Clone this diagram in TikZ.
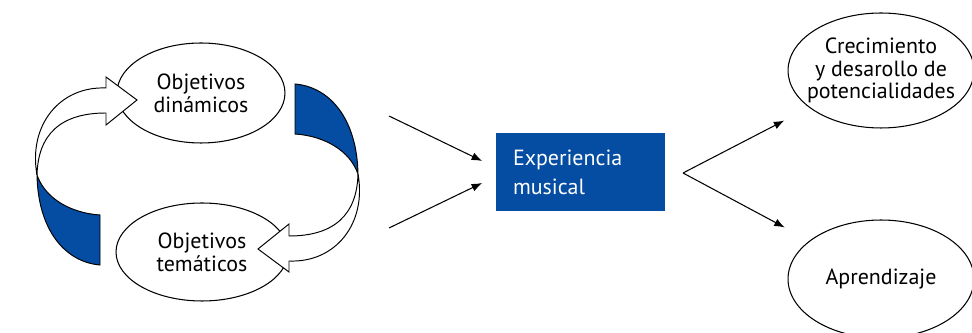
\documentclass[tikz,border=0pt]{standalone}
\usepackage{fontspec}
\setmainfont{PT Sans}
\usetikzlibrary{arrows.meta,shapes.geometric}
\definecolor{musicblue}{RGB}{4,77,162}
\tikzset{
	goal/.style={ellipse, draw, line width=0.6pt, align=center, inner sep=-8pt, font=\fontsize{12.5}{13}\selectfont},
	flow/.style={-{Latex[length=6pt,width=4.5pt]}, line width=0.6pt},
	band/.style={draw, line width=0.55pt},
}
% one twisted band of the cycle, drawn in pixel units
\newcommand\cycleband[1]{%
	\begin{scope}[#1]
		\draw[band, fill=white] (106,88) .. controls (60,86) and (28,125) .. (37,175)
			.. controls (38,135) and (60,113) .. (106,113) -- (106,125) -- (137,100) -- (106,77) -- cycle;
		\draw[band, fill=musicblue] (37,175) .. controls (45,198) and (70,213) .. (100,215) -- (100,265)
			.. controls (65,262) and (38,230) .. (37,175) -- cycle;
	\end{scope}}

\begin{document}
\begin{tikzpicture}[x=0.02cm, y=-0.02cm]
			%%%%% START %%%%%
			\useasboundingbox (0,0) rectangle (972,333);
			\clip (0,0) rectangle (972,333);
			
			\node[goal, minimum width=3.36cm, minimum height=2.0cm] (dyn) at (201,93) {Objetivos\\din\'amicos};
			\node[goal, minimum width=3.44cm, minimum height=1.96cm] (theme) at (202,252) {Objetivos\\tem\'aticos};
			
			\cycleband{}
			\cycleband{rotate around={180:(197.5,174.5)}}
			
			\node[fill=musicblue, text=white, align=left, font=\fontsize{12.5}{16.4}\selectfont,
				minimum width=3.38cm, minimum height=1.56cm, text width=2.7cm, inner xsep=0.34cm] (music) at (580.5,172) {Experiencia\\musical};
			
			\node[goal, minimum width=3.72cm, minimum height=2.3cm] (grow) at (881,70.5) {Crecimiento\\y desarollo de\\potencialidades};
			\node[goal, minimum width=3.72cm, minimum height=2.36cm] (learn) at (881,279) {Aprendizaje};
			
			\coordinate (in1) at (389,116);
			\coordinate (in2) at (389,228);
			\coordinate (split) at (683,173);
			
			\draw[flow, shorten >=0.3cm] (in1) -- (music.177);
			\draw[flow, shorten >=0.3cm] (in2) -- (music.183);
			\draw[flow, shorten >=0.56cm] (split) -- (grow);
			\draw[flow, shorten >=0.56cm] (split) -- (learn);
			%%%%% END %%%%%
\end{tikzpicture}
\end{document}
